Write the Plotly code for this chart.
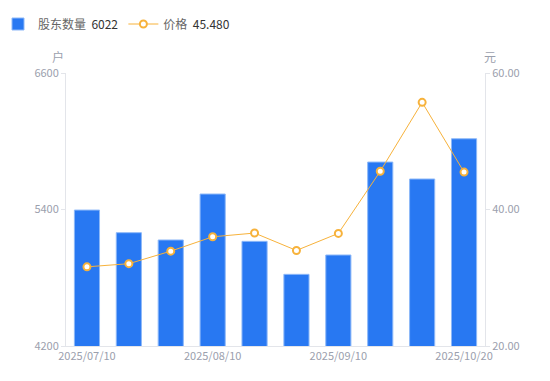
import plotly.graph_objects as go

dates = ["2025/07/10", "2025/07/20", "2025/07/31", "2025/08/10", "2025/08/20",
         "2025/08/29", "2025/09/10", "2025/09/19", "2025/09/30", "2025/10/20"]
holders = [5395, 5196, 5132, 5536, 5120, 4830, 5000, 5817, 5668, 6022]
prices = [31.6, 32.06, 33.9, 36.0, 36.55, 34.0, 36.5, 45.6, 55.7, 45.48]
tick_dates = ["2025/07/10", "2025/08/10", "2025/09/10", "2025/10/20"]
left_ticks = [4200, 5400, 6600]
right_ticks = [20, 40, 60]

blue = "#2878F2"
orange = "#F7B23B"
gray = "#9BA0AD"
axis_col = "#E3E5EA"

fig = go.Figure()
fig.add_trace(go.Bar(
    x=dates, y=holders,
    name=f"股东数量&nbsp;&nbsp;<span style='color:#333'>{holders[-1]}</span>",
    marker=dict(color=blue, line=dict(color="#8DB8F8", width=1)),
    width=0.6,
))
fig.add_trace(go.Scatter(
    x=dates, y=prices, yaxis="y2", mode="lines+markers",
    name=f"价格&nbsp;&nbsp;<span style='color:#333'>{prices[-1]:.3f}</span>",
    line=dict(color=orange, width=1),
    marker=dict(symbol="circle", size=7, color="white", line=dict(color=orange, width=2)),
))

fig.update_layout(
    width=550, height=381,
    margin=dict(l=58, r=73, t=65, b=43, autoexpand=False),
    plot_bgcolor="white", paper_bgcolor="white",
    font=dict(family="Noto Sans CJK SC, Noto Sans, sans-serif", size=11, color=gray),
    showlegend=True,
    legend=dict(orientation="h", x=-68 / 419, xanchor="left", xref="paper",
                y=1 - 16 / 381, yanchor="middle", yref="container",
                font=dict(size=12, color="#666"), itemwidth=30, tracegroupgap=0),
    bargap=0.4,
    xaxis=dict(type="category", tickmode="array", tickvals=tick_dates, ticktext=tick_dates,
               showgrid=False, showline=True, linecolor=axis_col, linewidth=1,
               ticks="", tickfont=dict(size=11, color=gray), range=[-0.5, 9.5],
               automargin=False),
    yaxis=dict(range=[4200, 6600], tickvals=left_ticks, showgrid=False, showline=True,
               linecolor=axis_col, ticks="outside", ticklen=4, tickcolor=axis_col,
               tickfont=dict(size=11, color=gray), zeroline=False, automargin=False),
    yaxis2=dict(range=[20, 60], tickvals=right_ticks, tickformat=".2f", overlaying="y",
                side="right", showgrid=False, showline=True, linecolor=axis_col,
                ticks="outside", ticklen=4, tickcolor=axis_col,
                tickfont=dict(size=11, color=gray), zeroline=False, automargin=False),
    annotations=[
        dict(text="户", xref="paper", yref="paper", x=-0.018, y=1.0, yshift=6,
             showarrow=False, xanchor="center", yanchor="bottom",
             font=dict(size=12, color=gray)),
        dict(text="元", xref="paper", yref="paper", x=1.012, y=1.0, yshift=6,
             showarrow=False, xanchor="center", yanchor="bottom",
             font=dict(size=12, color=gray)),
    ],
)
fig.write_html("out.html")
